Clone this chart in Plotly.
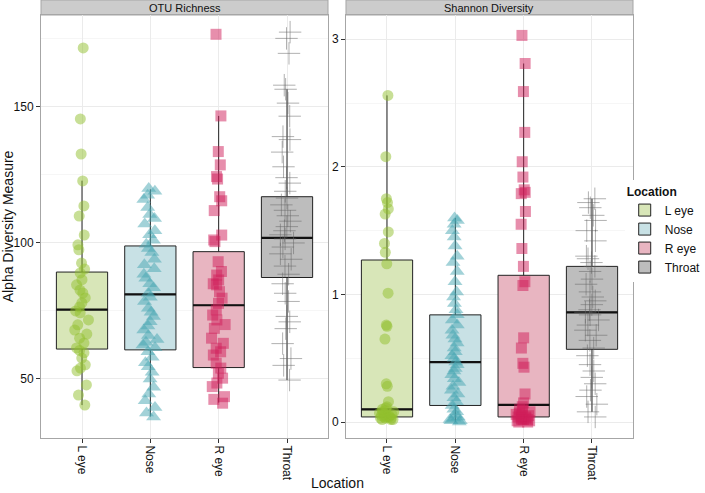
import plotly.graph_objects as go
from plotly.subplots import make_subplots

locations = ["L eye", "Nose", "R eye", "Throat"]
panels = ["OTU Richness", "Shannon Diversity"]

# box statistics (lower whisker, Q1, median, Q3, upper whisker)
rich_lo = [40.4, 36.2, 41.3, 49.6]
rich_q1 = [61.0, 60.7, 54.2, 87.3]
rich_med = [75.5, 81.1, 77.1, 101.9]
rich_q3 = [89.3, 98.9, 96.8, 117.0]
rich_hi = [122.9, 119.7, 146.7, 156.5]

shan_lo = [0.02, 0.0, 0.0, 0.08]
shan_q1 = [0.04, 0.13, 0.04, 0.57]
shan_med = [0.10, 0.47, 0.135, 0.86]
shan_q3 = [1.27, 0.84, 1.15, 1.22]
shan_hi = [2.56, 1.60, 2.81, 1.75]

# sample values (jittered points)
rich_l_eye = [171.7, 145.6, 132.7, 122.8, 113.6, 109.9, 102.9, 99.3, 97.5, 92.6, 90.4, 89.0,
              86.5, 84.6, 82.7, 81.6, 79.8, 78.0, 76.5, 75.0, 74.3, 71.7, 69.9, 68.0, 66.5,
              65.0, 63.2, 61.4, 60.5, 59.6, 57.7, 55.2, 54.0, 53.0, 47.8, 44.1, 40.4]
rich_nose = [120.0, 119.0, 117.5, 116.0, 113.0, 110.5, 109.0, 107.0, 104.5, 103.0, 101.0,
             99.5, 98.0, 96.5, 94.0, 92.0, 90.5, 88.5, 87.0, 85.0, 83.5, 81.5, 80.0, 78.5,
             76.0, 74.5, 73.0, 71.0, 69.5, 68.0, 66.0, 64.5, 63.5, 62.5, 61.5, 60.0, 58.0,
             56.0, 54.5, 52.5, 50.0, 47.0, 44.5, 42.0, 39.5, 37.5, 36.0]
rich_r_eye = [176.7, 146.7, 133.6, 128.7, 124.4, 123.5, 117.0, 115.5, 111.9, 102.9, 101.1,
              100.5, 93.1, 89.5, 88.2, 86.4, 85.0, 84.6, 82.1, 79.7, 77.8, 75.4, 73.5, 71.7,
              70.0, 68.6, 65.0, 63.1, 61.3, 60.0, 58.8, 55.8, 54.0, 52.1, 50.3, 48.5, 47.2,
              43.5, 42.5, 41.1]
rich_throat = [177.5, 175.2, 169.7, 158.0, 156.5, 151.4, 146.6, 139.1, 138.0, 133.4, 128.0,
               124.0, 122.0, 119.0, 116.5, 114.0, 112.0, 110.0, 108.0, 106.0, 104.5, 103.0,
               101.5, 100.0, 98.5, 96.0, 94.0, 91.5, 88.5, 85.0, 81.5, 78.5, 73.0, 71.0,
               68.5, 63.0, 57.5, 55.0, 49.6]

shan_l_eye = [2.56, 2.08, 1.75, 1.72, 1.67, 1.63, 1.49, 1.40, 1.33, 1.24, 1.01, 0.76, 0.75,
              0.65, 0.30, 0.28, 0.16, 0.12, 0.11, 0.10, 0.09, 0.08, 0.08, 0.07, 0.06, 0.06,
              0.05, 0.05, 0.04, 0.04, 0.04, 0.03, 0.03, 0.03, 0.02, 0.02, 0.02]
shan_nose = [1.60, 1.58, 1.55, 1.50, 1.45, 1.38, 1.30, 1.25, 1.18, 1.10, 1.02, 0.98, 0.93,
             0.88, 0.84, 0.80, 0.76, 0.72, 0.68, 0.65, 0.62, 0.58, 0.55, 0.52, 0.50, 0.47,
             0.45, 0.42, 0.40, 0.37, 0.34, 0.31, 0.28, 0.25, 0.22, 0.19, 0.16, 0.13, 0.10,
             0.08, 0.06, 0.04, 0.03, 0.02, 0.01, 0.01, 0.0]
shan_r_eye = [3.03, 2.81, 2.59, 2.27, 2.04, 1.92, 1.82, 1.80, 1.79, 1.65, 1.55, 1.36, 1.22,
              1.10, 1.07, 0.66, 0.58, 0.46, 0.43, 0.22, 0.15, 0.12, 0.10, 0.09, 0.08, 0.07,
              0.06, 0.05, 0.05, 0.04, 0.04, 0.03, 0.03, 0.02, 0.02, 0.02, 0.01, 0.01, 0.0, 0.0]
shan_throat = [1.75, 1.72, 1.68, 1.62, 1.58, 1.50, 1.42, 1.30, 1.28, 1.25, 1.22, 1.18, 1.12,
               1.08, 1.02, 0.98, 0.95, 0.92, 0.88, 0.86, 0.84, 0.80, 0.76, 0.72, 0.68, 0.64,
               0.58, 0.52, 0.45, 0.40, 0.35, 0.30, 0.25, 0.20, 0.14, 0.08, 0.04]

point_colors = ["rgba(145,192,45,0.5)", "rgba(70,166,178,0.5)", "rgba(208,30,90,0.5)", "rgba(100,100,100,0.5)"]
fill_colors = ["#d8e6b8", "#c8e1e5", "#e8b5c1", "#bdbdbd"]
symbols = ["circle", "triangle-up", "square", "cross-thin-open"]
sizes = [11, 13, 11, 16]

stats = [
    (rich_lo, rich_q1, rich_med, rich_q3, rich_hi, [rich_l_eye, rich_nose, rich_r_eye, rich_throat]),
    (shan_lo, shan_q1, shan_med, shan_q3, shan_hi, [shan_l_eye, shan_nose, shan_r_eye, shan_throat]),
]

FONT = "Liberation Sans, Arial, sans-serif"

fig = make_subplots(rows=1, cols=2, horizontal_spacing=0.0304)

for col, (lo, q1, med, q3, hi, pts) in enumerate(stats, start=1):
    for i, loc in enumerate(locations):
        # box with whiskers
        fig.add_trace(go.Box(
            x=[i], q1=[q1[i]], median=[med[i]], q3=[q3[i]],
            lowerfence=[lo[i]], upperfence=[hi[i]],
            width=0.75, whiskerwidth=0, boxpoints=False,
            fillcolor=fill_colors[i], line=dict(color="#222222", width=1),
            name=loc, legendgroup=loc, showlegend=(col == 1), hoverinfo="skip"
        ), row=1, col=col)
        # thicker median line
        fig.add_trace(go.Box(
            x=[i], q1=[med[i]], median=[med[i]], q3=[med[i]],
            lowerfence=[med[i]], upperfence=[med[i]],
            width=0.75, whiskerwidth=0, boxpoints=False,
            fillcolor="rgba(0,0,0,0)", line=dict(color="#111111", width=2.2),
            showlegend=False, hoverinfo="skip"
        ), row=1, col=col)
        # jittered sample points
        fig.add_trace(go.Box(
            x=[i] * len(pts[i]), y=pts[i], boxpoints="all", jitter=0.3, pointpos=0,
            width=0.75, fillcolor="rgba(0,0,0,0)",
            line=dict(color="rgba(0,0,0,0)", width=0),
            marker=dict(symbol=symbols[i], size=sizes[i], color=point_colors[i],
                        line=dict(width=1 if i == 3 else 0, color=point_colors[i])),
            showlegend=False, hoverinfo="skip"
        ), row=1, col=col)

axis_font = dict(family=FONT, size=12, color="#111111")
for col in (1, 2):
    fig.update_xaxes(
        range=[-0.6, 3.6], tickvals=[0, 1, 2, 3], ticktext=locations, tickangle=90,
        showgrid=True, gridcolor="#ebebeb", zeroline=False, automargin=False,
        showline=True, mirror=True, linecolor="#a6a6a6", linewidth=1,
        ticks="outside", ticklen=4, tickcolor="#333333", tickfont=axis_font,
        row=1, col=col)
fig.update_yaxes(range=[28.3, 183.8], tickvals=[50, 100, 150],
                 minor=dict(dtick=25, tick0=0, showgrid=True, gridcolor="#f6f6f6"),
                 row=1, col=1)
fig.update_yaxes(range=[-0.125, 3.19], tickvals=[0, 1, 2, 3],
                 minor=dict(dtick=0.5, tick0=0, showgrid=True, gridcolor="#f6f6f6"),
                 row=1, col=2)
fig.update_yaxes(showgrid=True, gridcolor="#ebebeb", zeroline=False, automargin=False,
                 showline=True, mirror=True, linecolor="#a6a6a6", linewidth=1,
                 ticks="outside", ticklen=4, tickcolor="#333333", tickfont=axis_font)
fig.update_yaxes(title=dict(text="Alpha Diversity Measure", standoff=2,
                            font=dict(family=FONT, size=14, color="#111111")),
                 row=1, col=1)

# facet strips
strip_h = 15 / 423
for col, (xr, yr) in enumerate([("x", "y"), ("x2", "y2")]):
    fig.add_shape(type="rect", xref=f"{xr} domain", yref=f"{yr} domain",
                  x0=0, x1=1, y0=1, y1=1 + strip_h,
                  fillcolor="#cccccc", line=dict(color="#a6a6a6", width=1), layer="below")
    fig.add_annotation(text=panels[col], xref=f"{xr} domain", yref=f"{yr} domain",
                       x=0.5, y=1 + strip_h / 2, showarrow=False, yanchor="middle",
                       font=dict(family=FONT, size=11, color="#111111"))

fig.add_annotation(text="Location", xref="paper", yref="paper", x=0.5, y=-0.107,
                   yanchor="middle", showarrow=False, borderpad=0,
                   font=dict(family=FONT, size=14, color="#111111"))

fig.update_layout(
    width=705, height=493,
    margin=dict(l=41, r=72, t=15, b=55, autoexpand=False),
    plot_bgcolor="white", paper_bgcolor="white",
    boxmode="overlay",
    legend=dict(x=0.986, y=0.61, xanchor="left", yanchor="top",
                title=dict(text="<b>Location</b>", font=dict(size=12)),
                font=dict(family=FONT, size=12, color="#111111"),
                tracegroupgap=0, itemwidth=30),
    font=dict(family=FONT),
)

fig.write_html("out.html", config={"displayModeBar": False},
               post_script="document.body.style.margin='0';")
